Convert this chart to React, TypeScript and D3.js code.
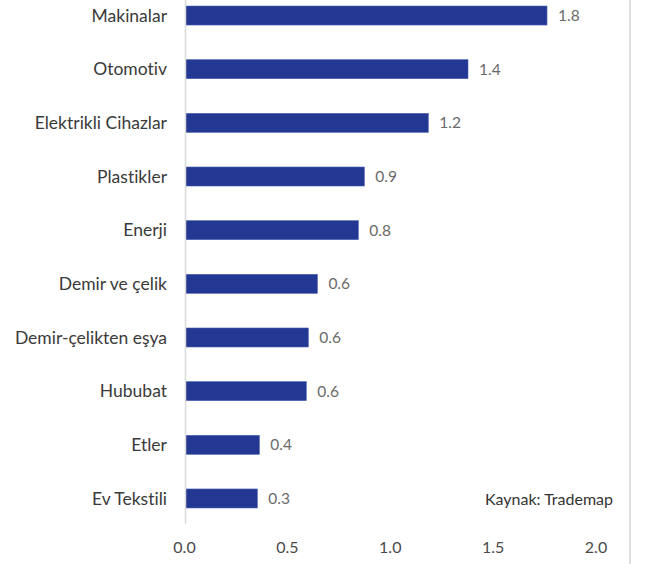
import { useEffect, useRef } from 'react'
import * as d3 from 'd3'

const categories = [
  'Makinalar',
  'Otomotiv',
  'Elektrikli Cihazlar',
  'Plastikler',
  'Enerji',
  'Demir ve çelik',
  'Demir-çelikten eşya',
  'Hububat',
  'Etler',
  'Ev Tekstili',
]
const values = [1.757, 1.373, 1.18, 0.869, 0.84, 0.641, 0.597, 0.587, 0.359, 0.349]
const valueLabels = ['1.8', '1.4', '1.2', '0.9', '0.8', '0.6', '0.6', '0.6', '0.4', '0.3']
const ticks = [0, 0.5, 1, 1.5, 2]
const source = 'Kaynak: Trademap'

export default function App() {
  const svgRef = useRef<SVGSVGElement>(null)

  useEffect(() => {
    const width = 648, height = 564
    const font = 'Lato, "Open Sans", sans-serif'
    const svg = d3.select(svgRef.current)
    svg.selectAll('*').remove()
    svg.attr('width', width).attr('height', height)
      .style('background', '#fff')
      .style('font-variant-ligatures', 'none')

    const x = d3.scaleLinear().domain([0, 2]).range([185.5, 597])
    const y = d3.scaleBand<string>()
      .domain(categories)
      .range([-11.3, 525.3])
      .paddingInner(0.646)
      .paddingOuter(0.323)

    // right frame line
    svg.append('line')
      .attr('x1', 630).attr('x2', 630)
      .attr('y1', 0).attr('y2', height)
      .attr('stroke', '#d4d4d4').attr('stroke-width', 1.5)

    // bars
    svg.selectAll('.bar')
      .data(values)
      .enter()
      .append('rect')
      .attr('x', x(0))
      .attr('y', (d, i) => y(categories[i])!)
      .attr('width', d => x(d) - x(0))
      .attr('height', y.bandwidth())
      .attr('fill', '#223893')
      .attr('stroke', '#4a5fb0')
      .attr('stroke-width', 0.6)

    // vertical axis line
    svg.append('line')
      .attr('x1', x(0)).attr('x2', x(0))
      .attr('y1', 0).attr('y2', 524)
      .attr('stroke', '#d9d9d9').attr('stroke-width', 1.5)

    // category labels
    svg.selectAll('.cat')
      .data(categories)
      .enter()
      .append('text')
      .text(d => d)
      .attr('x', 167)
      .attr('y', d => y(d)! + y.bandwidth() / 2)
      .attr('dy', '0.35em')
      .attr('text-anchor', 'end')
      .attr('fill', '#3a3a3a')
      .attr('font-family', font)
      .attr('font-size', '17.5px')

    // value labels
    svg.selectAll('.val')
      .data(values)
      .enter()
      .append('text')
      .text((d, i) => valueLabels[i])
      .attr('x', d => x(d) + 11)
      .attr('y', (d, i) => y(categories[i])! + y.bandwidth() / 2)
      .attr('dy', '0.35em')
      .attr('fill', '#6a6a6a')
      .attr('font-family', font)
      .attr('font-size', '15.5px')

    // x tick labels
    svg.selectAll('.tick')
      .data(ticks)
      .enter()
      .append('text')
      .text(d => d3.format('.1f')(d))
      .attr('x', d => x(d) - 1)
      .attr('y', 547.5)
      .attr('dy', '0.35em')
      .attr('text-anchor', 'middle')
      .attr('fill', '#4a4a4a')
      .attr('font-family', font)
      .attr('font-size', '16px')

    svg.append('text')
      .text(source)
      .attr('x', 613)
      .attr('y', 499)
      .attr('dy', '0.35em')
      .attr('text-anchor', 'end')
      .attr('fill', '#333')
      .attr('font-family', font)
      .attr('font-size', '16px')
  }, [])

  return (
    <div style={{ position: 'fixed', left: 0, top: 0 }}>
      <svg ref={svgRef} style={{ display: 'block' }} />
    </div>
  )
}
